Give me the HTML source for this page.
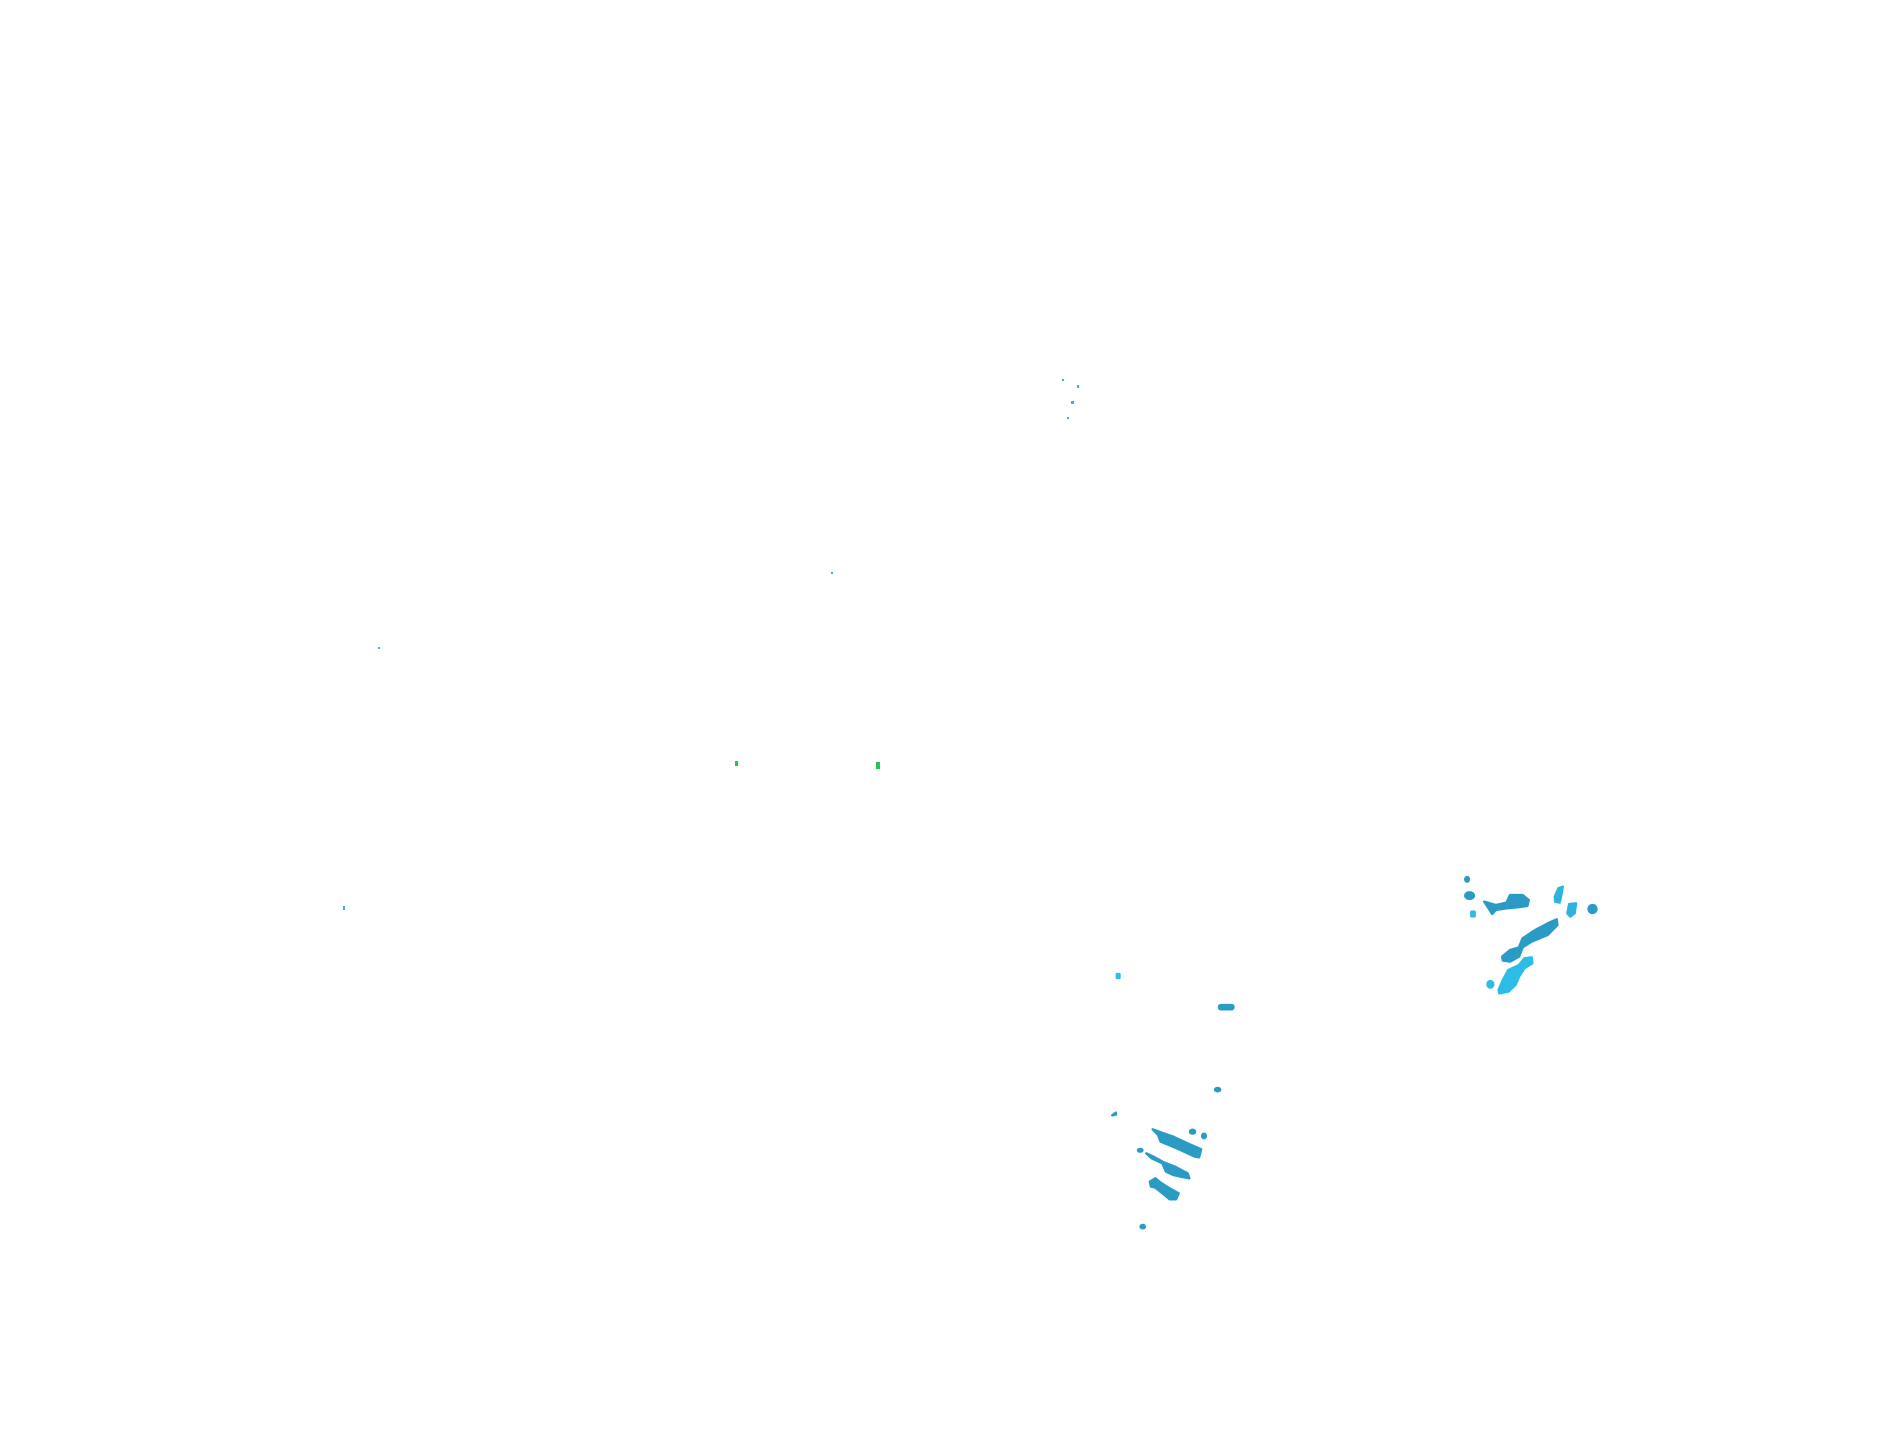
<!DOCTYPE html>
<html><head><meta charset="utf-8"><style>html,body{margin:0;padding:0;background:#fff;width:1904px;height:1441px;overflow:hidden}</style></head>
<body>
<svg width="1904" height="1441" xmlns="http://www.w3.org/2000/svg">
<rect width="1904" height="1441" fill="#fff"/>
<g fill="#2bb8e0">
<rect x="1062" y="379" width="2" height="2"/>
<rect x="1077" y="385" width="2" height="3"/>
<rect x="1071" y="401" width="3" height="3"/>
<rect x="1067" y="417" width="2" height="2"/>
<rect x="831" y="572" width="2" height="2"/>
<rect x="378" y="647" width="2" height="2"/>
<rect x="343" y="906" width="2" height="4"/>
</g>
<g fill="#22c55e">
<rect x="735" y="761" width="3" height="5"/>
<rect x="876" y="762" width="4" height="7"/>
</g>
<g transform="translate(1080,860) scale(0.3584,0.3333)" fill="#2a9bc4" stroke="#2a9bc4" stroke-width="7" stroke-linejoin="round">
<ellipse cx="1080" cy="58" rx="5" ry="7"/>
<ellipse cx="1087" cy="107" rx="12" ry="10"/>
<rect x="1092" y="155" width="9" height="14" fill="#2bbde6" stroke="#2bbde6"/>
<path d="M1128 125 L1160 135 L1190 128 L1200 105 L1235 105 L1252 120 L1248 138 L1220 142 L1190 145 L1160 150 L1150 162 L1140 145 Z"/>
<path d="M1325 110 L1335 85 L1347 80 L1342 110 L1338 128 L1326 125 Z" fill="#2bb5de" stroke="#2bb5de"/>
<path d="M1360 160 L1365 132 L1384 130 L1380 160 L1368 170 Z" fill="#2bb5de" stroke="#2bb5de"/>
<ellipse cx="1430" cy="147" rx="11" ry="12"/>
<path d="M1178 290 L1200 270 L1225 262 L1235 235 L1270 210 L1305 190 L1330 178 L1332 195 L1305 225 L1260 245 L1235 262 L1225 290 L1200 305 L1180 302 Z"/>
<path d="M1168 390 L1180 360 L1195 330 L1225 315 L1240 295 L1260 292 L1262 310 L1240 325 L1225 350 L1215 375 L1195 395 L1170 400 Z" fill="#2bbde6" stroke="#2bbde6"/>
<ellipse cx="1145" cy="373" rx="8" ry="10" fill="#2bbde6" stroke="#2bbde6"/>
<rect x="103" y="342" width="7" height="12" fill="#2bbde6" stroke="#2bbde6"/>
<rect x="388" y="435" width="40" height="13" rx="5"/>
<ellipse cx="384" cy="689" rx="7" ry="5"/>
<path d="M90 766 L100 758 L100 764 Z"/>
<path d="M203 808 L220 815 L260 830 L300 850 L338 868 L332 892 L320 890 L270 865 L225 845 L218 825 Z"/>
<ellipse cx="314" cy="815" rx="7" ry="6"/>
<ellipse cx="346" cy="828" rx="5" ry="7"/>
<ellipse cx="168" cy="871" rx="6" ry="4"/>
<path d="M185 880 L205 890 L230 905 L265 920 L300 940 L305 955 L290 952 L260 945 L240 935 L230 910 L200 895 Z"/>
<path d="M195 965 L210 955 L225 968 L250 985 L275 1000 L268 1018 L250 1018 L230 1000 L210 983 L198 980 Z"/>
<ellipse cx="175" cy="1100" rx="6" ry="5"/>
</g>
</svg>
</body></html>
